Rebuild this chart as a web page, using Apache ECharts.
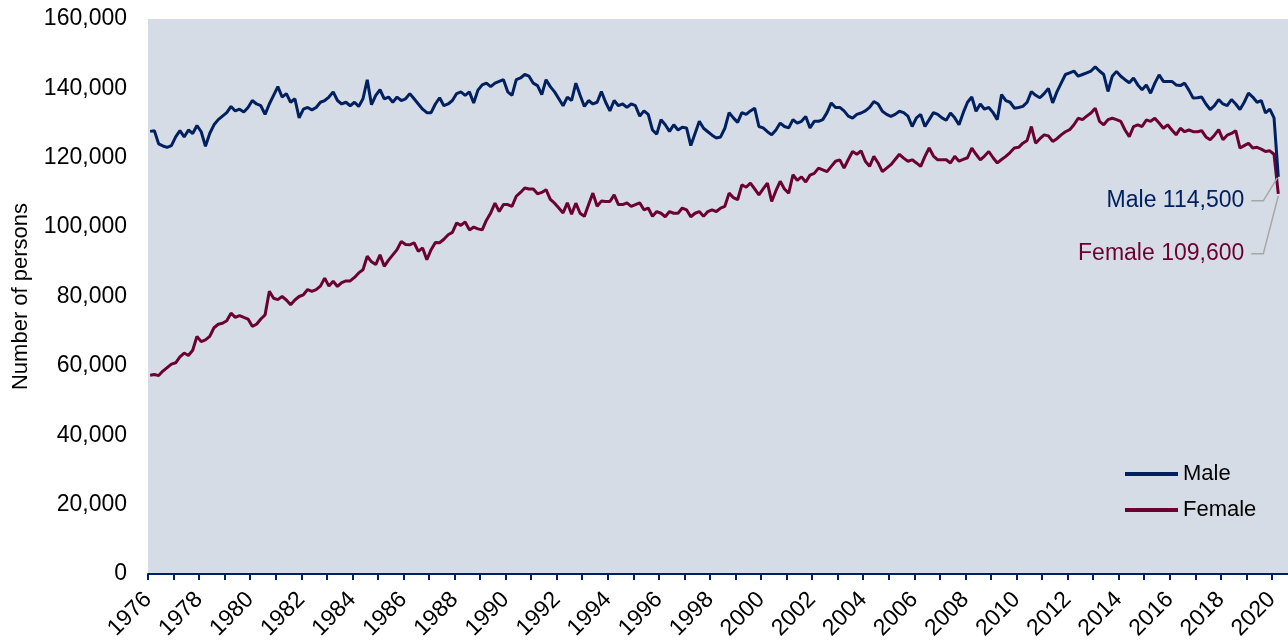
<!DOCTYPE html>
<html>
<head>
<meta charset="utf-8">
<title>Number of persons - Male / Female</title>
<script src="https://cdn.jsdelivr.net/npm/echarts@6/dist/echarts.min.js"></script>
<style>
  html, body { margin: 0; padding: 0; background: #fff; }
  #chart { width: 1288px; height: 641px; }
</style>
</head>
<body>
<div id="chart"></div>
<script>
// Series sampled every 2 months (Feb, Apr, Jun, Aug, Oct, Dec), Feb 1976 to Apr 2020
// Values in thousands of persons, read off the reference picture
var startYear = 1976;
var firstMonth = 2;
var stepMonths = 2;

var maleValues = [
  127.6, 127.8, 124.0, 123.4, 123.0, 123.5, // 1976
  126.0, 127.8, 126.0, 128.0, 127.0, 129.3, // 1977
  127.5, 123.3, 127.0, 129.5, 131.0, 132.0, // 1978
  133.0, 134.8, 133.5, 134.0, 133.2, 134.5, // 1979
  136.5, 135.5, 135.0, 132.5, 135.5, 138.0, // 1980
  140.5, 137.5, 138.5, 136.0, 137.0, 131.5, // 1981
  134.0, 134.5, 133.8, 134.5, 136.0, 136.5, // 1982
  137.5, 139.0, 136.5, 135.5, 136.0, 135.0, // 1983
  136.0, 134.8, 137.0, 142.5, 135.3, 138.0, // 1984
  139.6, 137.0, 137.5, 136.0, 137.5, 136.5, // 1985
  137.0, 138.5, 137.0, 135.5, 134.0, 133.0, // 1986
  133.0, 135.5, 137.3, 135.0, 135.5, 136.5, // 1987
  138.5, 139.0, 138.0, 139.0, 135.8, 139.5, // 1988
  141.0, 141.5, 140.5, 141.5, 142.0, 142.5, // 1989
  139.0, 138.0, 142.5, 143.0, 144.0, 143.5, // 1990
  141.5, 140.8, 138.2, 142.5, 140.5, 139.0, // 1991
  137.0, 135.0, 137.5, 136.5, 141.5, 138.0, // 1992
  134.8, 136.5, 135.5, 136.0, 139.1, 136.0, // 1993
  133.5, 136.5, 135.0, 135.5, 134.5, 135.5, // 1994
  135.0, 132.0, 133.5, 132.5, 128.0, 126.8, // 1995
  131.0, 129.5, 127.6, 129.5, 128.0, 128.8, // 1996
  128.6, 123.5, 127.0, 130.5, 128.5, 127.5, // 1997
  126.5, 125.7, 126.0, 128.5, 133.0, 131.5, // 1998
  130.2, 133.0, 132.5, 133.5, 134.3, 129.0, // 1999
  128.6, 127.5, 126.6, 128.0, 130.0, 129.0, // 2000
  128.6, 131.0, 130.0, 130.5, 131.9, 128.6, // 2001
  130.5, 130.5, 131.0, 133.0, 135.8, 134.5, // 2002
  134.5, 133.5, 132.0, 131.4, 132.5, 132.9, // 2003
  133.5, 134.5, 136.2, 135.5, 133.4, 132.5, // 2004
  131.9, 132.5, 133.4, 133.0, 132.0, 129.0, // 2005
  131.5, 132.5, 129.0, 131.0, 133.0, 132.5, // 2006
  131.5, 130.8, 132.9, 131.5, 129.5, 133.0, // 2007
  136.0, 137.5, 133.4, 135.5, 134.0, 134.5, // 2008
  133.0, 131.0, 138.2, 136.5, 136.0, 134.3, // 2009
  134.5, 134.8, 136.0, 139.1, 138.0, 137.3, // 2010
  138.5, 140.0, 135.8, 139.0, 141.5, 144.0, // 2011
  144.5, 145.0, 143.5, 144.0, 144.5, 145.0, // 2012
  146.2, 145.0, 144.0, 139.1, 143.5, 144.9, // 2013
  143.5, 142.5, 141.6, 143.0, 141.0, 139.6, // 2014
  141.0, 138.6, 141.5, 143.9, 142.0, 142.0, // 2015
  142.0, 141.0, 140.8, 141.5, 139.5, 137.2, // 2016
  137.3, 137.5, 135.5, 133.9, 135.0, 136.8, // 2017
  135.5, 135.0, 136.8, 135.5, 133.9, 136.0, // 2018
  138.6, 137.5, 136.0, 136.5, 132.9, 134.0, // 2019
  131.5, 114.5                              // 2020
];

var femaleValues = [
  57.3, 57.5, 57.2, 58.5, 59.5, 60.5,       // 1976
  60.9, 62.6, 63.7, 63.0, 64.5, 68.5,       // 1977
  67.0, 67.5, 68.5, 71.0, 72.0, 72.3,       // 1978
  73.0, 75.2, 74.0, 74.5, 74.0, 73.5,       // 1979
  71.4, 72.0, 73.5, 74.7, 81.5, 79.5,       // 1980
  79.1, 80.0, 79.0, 77.6, 79.0, 80.0,       // 1981
  80.5, 82.0, 81.5, 82.0, 83.0, 85.3,       // 1982
  83.0, 84.4, 82.9, 84.0, 84.5, 84.5,       // 1983
  85.5, 86.8, 87.7, 91.6, 90.0, 89.2,       // 1984
  92.0, 88.7, 90.5, 92.0, 93.5, 95.9,       // 1985
  95.0, 94.9, 95.5, 93.0, 94.0, 90.6,       // 1986
  93.5, 95.6, 95.5, 96.5, 97.8, 98.5,       // 1987
  101.2, 100.5, 101.5, 99.2, 100.0, 99.5,   // 1988
  99.2, 102.0, 104.1, 106.9, 104.5, 106.5,  // 1989
  106.5, 106.0, 108.9, 110.0, 111.3, 111.0, // 1990
  111.0, 109.6, 110.0, 110.8, 108.0, 106.9, // 1991
  105.5, 104.1, 107.0, 103.7, 106.9, 104.0, // 1992
  103.1, 106.5, 109.8, 106.0, 107.5, 107.4, // 1993
  107.4, 109.3, 106.5, 106.5, 107.0, 106.0, // 1994
  106.5, 107.0, 105.0, 105.5, 103.1, 104.5, // 1995
  104.0, 103.0, 104.5, 104.0, 104.0, 105.5, // 1996
  105.0, 103.0, 104.0, 104.5, 103.1, 104.5, // 1997
  105.0, 104.5, 105.5, 106.0, 109.8, 108.5, // 1998
  107.9, 112.2, 111.5, 112.7, 111.0, 109.3, // 1999
  111.0, 112.7, 107.4, 110.5, 113.2, 111.0, // 2000
  109.8, 115.1, 113.5, 114.5, 113.0, 115.0, // 2001
  115.5, 117.0, 116.5, 116.0, 117.5, 119.0, // 2002
  119.4, 117.0, 119.5, 121.8, 121.0, 122.0, // 2003
  119.0, 117.5, 120.4, 118.5, 116.0, 117.0, // 2004
  118.0, 119.5, 121.0, 119.9, 119.0, 119.4, // 2005
  118.5, 117.5, 120.4, 122.8, 120.5, 119.4, // 2006
  119.4, 119.4, 118.5, 120.4, 119.0, 119.5, // 2007
  120.0, 122.8, 121.0, 119.4, 120.5, 121.8, // 2008
  120.0, 118.5, 119.5, 120.4, 121.5, 122.8, // 2009
  123.0, 124.2, 125.0, 129.0, 124.2, 125.5, // 2010
  126.6, 126.3, 124.7, 125.5, 126.6, 127.5, // 2011
  128.1, 129.5, 131.4, 131.0, 132.0, 132.9, // 2012
  134.3, 130.5, 129.5, 131.0, 131.4, 131.0, // 2013
  130.5, 128.0, 126.1, 129.0, 129.5, 129.0, // 2014
  130.9, 130.5, 131.4, 130.0, 128.5, 129.5, // 2015
  128.0, 126.6, 128.5, 127.5, 128.0, 127.5, // 2016
  127.5, 127.8, 126.0, 125.2, 126.5, 128.1, // 2017
  125.2, 126.5, 127.0, 127.8, 122.8, 123.5, // 2018
  124.2, 122.8, 123.0, 122.5, 121.8, 122.0, // 2019
  121.0, 109.6                              // 2020
];

var seriesNames = ['Male', 'Female'];
var seriesColors = ['#002060', '#6b0032'];
var endLabels = ['Male 114,500', 'Female 109,600'];

var yTicks = { min: 0, max: 160000, interval: 20000 };
var xRange = { min: 1976, max: 2020.63, interval: 1, labelEvery: 2 };

var FONT = 'Arial, "Liberation Sans", sans-serif';
var FONT_SIZE = 23;

function toPoints(values) {
  var pts = [];
  for (var i = 0; i < values.length; i++) {
    var x = startYear + (firstMonth - 1 + stepMonths * i) / 12;
    pts.push([x, Math.round(values[i] * 1000)]);
  }
  return pts;
}

var maleData = toPoints(maleValues);
var femaleData = toPoints(femaleValues);

var chart = echarts.init(document.getElementById('chart'), null, { renderer: 'canvas' });

var option = {
  animation: false,
  backgroundColor: '#ffffff',
  textStyle: { fontFamily: FONT },
  grid: {
    left: 148,
    right: 0,
    top: 19,
    bottom: 67,
    show: true,
    backgroundColor: '#d6dce5',
    borderWidth: 0,
    containLabel: false,
    outerBoundsMode: 'none'
  },
  legend: {
    orient: 'vertical',
    left: 1125,
    top: 463,
    padding: 0,
    itemWidth: 53,
    itemHeight: 4,
    itemGap: 14,
    icon: 'rect',
    textStyle: { fontSize: 22, color: '#000', fontFamily: FONT },
    data: seriesNames
  },
  xAxis: {
    type: 'value',
    min: xRange.min,
    max: xRange.max,
    interval: xRange.interval,
    axisLine: { show: true, lineStyle: { color: '#002060', width: 2 } },
    axisTick: { show: true, length: 6, lineStyle: { color: '#002060', width: 2 } },
    splitLine: { show: false },
    axisLabel: {
      rotate: 45,
      margin: 22,
      fontSize: FONT_SIZE,
      color: '#000',
      fontFamily: FONT,
      showMaxLabel: false,
      formatter: function(v) {
        var yr = Math.round(v);
        if (Math.abs(v - yr) > 1e-6) return '';
        return ((yr - xRange.min) % xRange.labelEvery === 0) ? String(yr) : '';
      }
    }
  },
  yAxis: {
    type: 'value',
    min: yTicks.min,
    max: yTicks.max,
    interval: yTicks.interval,
    name: 'Number of persons',
    nameLocation: 'middle',
    nameGap: 116,
    nameTextStyle: { fontSize: 22, color: '#000', fontFamily: FONT },
    axisLine: { show: false },
    axisTick: { show: false },
    splitLine: { show: false },
    axisLabel: {
      margin: 21,
      fontSize: FONT_SIZE,
      color: '#000',
      fontFamily: FONT,
      formatter: function(v) { return v.toLocaleString('en-US'); }
    }
  },
  series: [
    {
      name: seriesNames[0],
      type: 'line',
      data: maleData,
      showSymbol: false,
      color: seriesColors[0],
      lineStyle: { color: seriesColors[0], width: 3 },
      z: 3
    },
    {
      name: seriesNames[1],
      type: 'line',
      data: femaleData,
      showSymbol: false,
      color: seriesColors[1],
      lineStyle: { color: seriesColors[1], width: 3 },
      z: 2
    }
  ]
};

chart.setOption(option);

// 末端标注 — 位置取自最后一个数据点的像素坐标
function addEndLabels() {
  var lastM = maleData[maleData.length - 1];
  var lastF = femaleData[femaleData.length - 1];
  var pm = chart.convertToPixel({ seriesIndex: 0 }, lastM);
  var pf = chart.convertToPixel({ seriesIndex: 1 }, lastF);

  var mLabelY = pm[1] + 24;
  var fLabelY = pf[1] + 60;
  var textRight = pm[0] - 34;
  var leaderStart = pm[0] - 27;
  var leaderBend = pm[0] - 15;

  var graphics = [
    {
      type: 'text',
      x: textRight,
      y: mLabelY,
      style: {
        text: endLabels[0],
        fill: seriesColors[0],
        font: FONT_SIZE + 'px ' + FONT,
        textAlign: 'right',
        textVerticalAlign: 'middle'
      },
      z: 10
    },
    {
      type: 'text',
      x: textRight,
      y: fLabelY,
      style: {
        text: endLabels[1],
        fill: seriesColors[1],
        font: FONT_SIZE + 'px ' + FONT,
        textAlign: 'right',
        textVerticalAlign: 'middle'
      },
      z: 10
    },
    {
      type: 'polyline',
      shape: { points: [[leaderStart, mLabelY], [leaderBend, mLabelY], [pm[0] - 1, pm[1] + 1]] },
      style: { stroke: '#a6a6a6', lineWidth: 1.5, fill: null },
      z: 9
    },
    {
      type: 'polyline',
      shape: { points: [[leaderStart, fLabelY], [leaderBend, fLabelY], [pf[0], pf[1] + 2]] },
      style: { stroke: '#a6a6a6', lineWidth: 1.5, fill: null },
      z: 9
    }
  ];

  chart.setOption({ graphic: graphics });
}

addEndLabels();
</script>
</body>
</html>
